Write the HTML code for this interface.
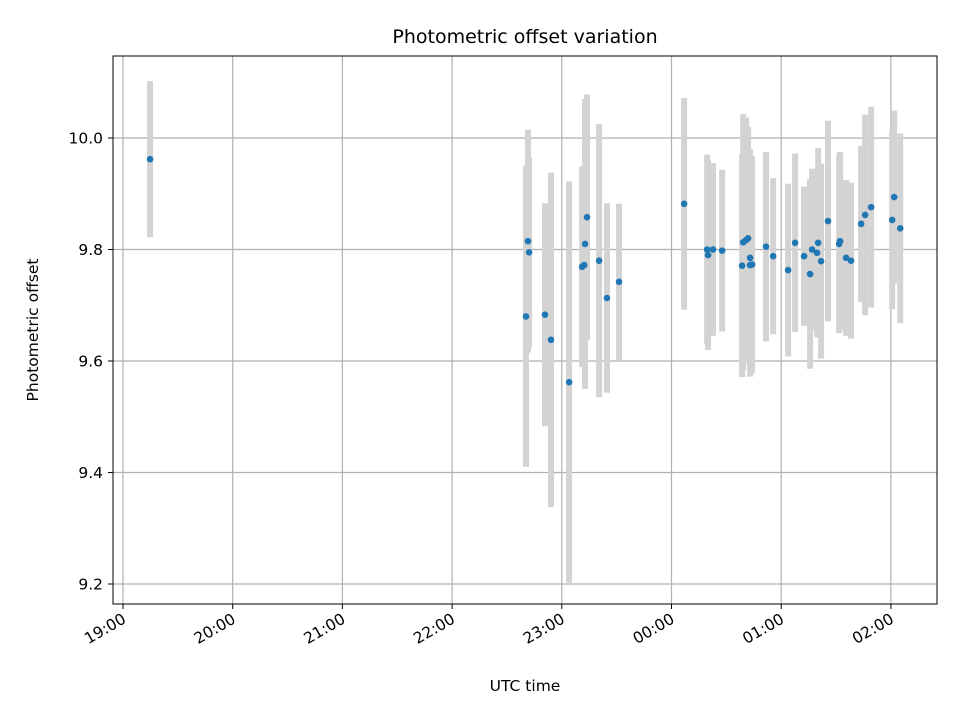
<!DOCTYPE html>
<html><head><meta charset="utf-8"><style>
body{margin:0;background:#fff}
svg text{font-family:"DejaVu Sans","Liberation Sans",sans-serif;fill:#000}
</style></head><body>
<svg id="chart" width="960" height="720" xmlns="http://www.w3.org/2000/svg">
<rect width="960" height="720" fill="#fff"/>
<g id="grid"></g>
<g id="bars"></g>
<g id="pts"></g>
<rect x="113" y="56" width="824" height="548" fill="none" stroke="#000" stroke-width="1"/>
<g id="axes"></g>
<text x="525" y="43" font-size="19" text-anchor="middle">Photometric offset variation</text>
<text x="525" y="691" font-size="15.5" text-anchor="middle">UTC time</text>
<text x="38" y="330" font-size="15.5" text-anchor="middle" transform="rotate(-90 38 330)">Photometric offset</text>
</svg>
<script>
// minutes since 19:00 UTC
const times=[14.8,220.4,221.5,222.1,230.8,234.1,244.0,251.1,252.2,252.7,253.8,260.4,264.7,271.3,306.9,319.5,320.0,322.7,327.7,338.6,339.2,340.8,341.9,343.0,343.0,344.1,351.7,355.6,363.8,367.6,372.5,375.8,376.9,379.6,380.2,381.8,385.6,391.7,392.2,395.5,398.2,403.7,405.9,409.2,420.7,421.8,425.1];
const values=[9.962,9.680,9.815,9.795,9.683,9.638,9.562,9.769,9.772,9.810,9.858,9.780,9.713,9.742,9.882,9.800,9.790,9.800,9.798,9.771,9.813,9.817,9.820,9.785,9.772,9.773,9.805,9.788,9.763,9.812,9.788,9.756,9.800,9.794,9.812,9.779,9.851,9.810,9.815,9.785,9.780,9.846,9.862,9.876,9.853,9.894,9.838];
const errors=[0.14,0.27,0.20,0.17,0.20,0.30,0.36,0.18,0.16,0.26,0.22,0.245,0.17,0.14,0.19,0.17,0.17,0.155,0.145,0.20,0.23,0.22,0.20,0.195,0.20,0.195,0.17,0.14,0.155,0.16,0.125,0.17,0.145,0.15,0.17,0.175,0.18,0.16,0.16,0.14,0.14,0.14,0.18,0.18,0.16,0.155,0.17];
const yTicks=[9.2,9.4,9.6,9.8,10.0];
const yTickLabels=["9.2","9.4","9.6","9.8","10.0"];
const xTicks=[0,60,120,180,240,300,360,420];
const xTickLabels=["19:00","20:00","21:00","22:00","23:00","00:00","01:00","02:00"];

const NS="http://www.w3.org/2000/svg";
const X=t=>123+t/60*109.7;
const Y=v=>138+(10-v)*557.5;
function mk(tag,attrs,parent){const e=document.createElementNS(NS,tag);for(const k in attrs)e.setAttribute(k,attrs[k]);parent.appendChild(e);return e;}
const grid=document.getElementById('grid'),axes=document.getElementById('axes'),bars=document.getElementById('bars'),pts=document.getElementById('pts');
yTicks.forEach((v,i)=>{
  const g=mk('line',{x1:113,x2:937,y1:Y(v),y2:Y(v),stroke:'#b0b0b0','stroke-width':1.2},grid);
  
  
  const t=mk('line',{x1:108,x2:113,y1:Y(v),y2:Y(v),stroke:'#000'},axes);
  
  
  const l=mk('text',{x:103,y:Y(v)+5.5,'font-size':15.5,'text-anchor':'end'},axes);
  l.textContent=yTickLabels[i];
  
  
});
xTicks.forEach((m,i)=>{
  const x=X(m);
  const g=mk('line',{x1:x,x2:x,y1:56,y2:604,stroke:'#b0b0b0','stroke-width':1.2},grid);
  
  
  const t=mk('line',{x1:x,x2:x,y1:604,y2:609,stroke:'#000'},axes);
  
  
  const l=mk('text',{x:x+4,y:622,'font-size':15.5,'text-anchor':'end',transform:`rotate(-30 ${x+4} 622)`},axes);
  l.textContent=xTickLabels[i];
  
  
});
times.forEach((m,i)=>{
  const x=X(m);
  const b=mk('line',{x1:x,x2:x,y1:Y(values[i]+errors[i]),y2:Y(values[i]-errors[i]),stroke:'#d3d3d3','stroke-width':6},bars);
  
  
});
times.forEach((m,i)=>{
  const c=mk('circle',{cx:X(m),cy:Y(values[i]),r:3.3,fill:'#1f77b4'},pts);
  
  
});
</script>
</body></html>
